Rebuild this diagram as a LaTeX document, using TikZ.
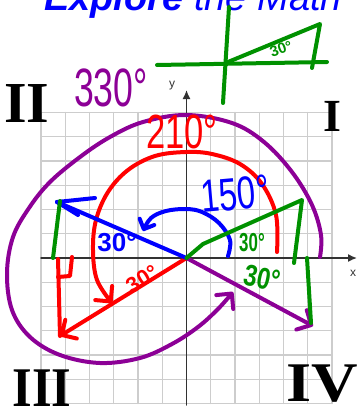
\documentclass[tikz,border=0pt]{standalone}
\usepackage{graphicx}
\usepackage{fontspec}
\setmainfont{Liberation Sans}
\newfontfamily\romanfont{Liberation Serif}
\usetikzlibrary{arrows.meta}
\definecolor{hpurple}{RGB}{140,0,150}
\definecolor{hgreen}{RGB}{0,145,0}
\definecolor{hred}{RGB}{255,0,0}
\definecolor{hblue}{RGB}{0,0,255}
\definecolor{gridc}{RGB}{205,205,205}
\definecolor{axisc}{RGB}{50,50,50}
\begin{document}
\begin{tikzpicture}[x=1pt,y=-1pt,line cap=round,line join=round,
  hand/.style={line width=4pt},
  barb/.style={-{Straight Barb[length=11pt,width=22pt,round]}},
  gridline/.style={gridc,line width=1.4pt},
  axisline/.style={axisc,line width=1.5pt},
  handtext/.style={inner sep=0pt,font=\fontsize{#1}{#1}\selectfont},
  numeral/.style={inner sep=0pt,font=\romanfont\bfseries\fontsize{#1}{#1}\selectfont}]
\useasboundingbox (0,0) rectangle (360,415);
\clip (0,0) rectangle (360,415);
% heading
\node[anchor=base west,inner sep=0pt,text=hblue,font=\fontsize{38}{38}\selectfont] (head) at (44,10) {\textbf{\textit{Explore}} \textit{the Math}};
% grid
\foreach \i in {0,...,12}{
  \draw[gridline] ({41+24.25*\i},112.5) -- ({41+24.25*\i},403.5);
  \draw[gridline] (41,{112.5+24.25*\i}) -- (332,{112.5+24.25*\i});
}
% axes
\coordinate (O) at (186.5,258);
\coordinate (ybot) at (186.5,405);
\coordinate (ytop) at (186.5,90);
\coordinate (xl) at (41,258);
\coordinate (xr) at (357,258);
\draw[axisline,-{Latex[length=9pt,width=8pt]}] (ybot) -- (ytop);
\draw[axisline,-{Latex[length=9pt,width=8pt]}] (xl) -- (xr);
\node[text=axisc,font=\fontsize{12}{12}\selectfont] (ylab) at (172,86) {y};
\node[text=axisc,font=\fontsize{12}{12}\selectfont] (xlab) at (353,273) {x};
% purple spiral
\draw[hand,hpurple,barb] plot[smooth,tension=0.6] coordinates {
 (320,257) (321,235) (312,205) (292,172) (264,142) (232,123) (186,115)
 (143,122) (110,137) (80,157) (50,182) (29,208) (13,237) (7,273)
 (12,310) (30,337) (60,355) (100,363) (140,358) (172,344) (198,327) (218,309) (233,292)};
\coordinate (P) at (313,326);
\draw[hand,hpurple,barb] (O) -- (P);
% red
\draw[hand,hred,barb] plot[smooth,tension=0.6] coordinates {
 (277,252) (276,215) (262,184) (240,164) (212,154) (186,152) (155,156)
 (128,170) (108,192) (96,220) (93,250) (97,280) (112,303)};
\coordinate (R) at (60,336);
\draw[hand,hred,barb] (O) -- (R);
\coordinate (Rtop) at (58,259);
\draw[hand,hred] (Rtop) -- (R);
\draw[hand,hred] (58,277) -- (70,276) -- (72,257);
% blue
\coordinate (B) at (57,202);
\draw[hand,hblue] (O) -- (B);
\draw[hand,hblue] (B) -- (95,198);
\draw[hand,hblue] (B) -- (78,215);
\draw[hand,hblue,-{Straight Barb[length=8pt,width=16pt,round]}] plot[smooth,tension=0.6] coordinates {
 (228,256) (230,240) (219,223) (202,212) (186,209) (166,211) (151,218) (143,231)};
% green
\coordinate (G1) at (302,200);
\coordinate (G1b) at (294,263);
\draw[hand,hgreen] (O) -- (203,244) -- (G1) -- (G1b);
\coordinate (G2) at (60,201);
\coordinate (G2b) at (53,258);
\draw[hand,hgreen] (G2) -- (G2b);
\coordinate (G4) at (307,258);
\coordinate (G4b) at (311,323);
\draw[hand,hgreen] (G4) -- (G4b);
% top green mini diagram
\coordinate (mh1) at (157,65);
\coordinate (mh2) at (327,62);
\coordinate (mv1) at (229,7);
\coordinate (mv2) at (223,103);
\coordinate (mo) at (228,62);
\coordinate (mt) at (320,24);
\coordinate (mb) at (312,68);
\draw[hand,hgreen] (mh1) -- (mh2);
\draw[hand,hgreen] (mv1) -- (mv2);
\draw[hand,hgreen] (mo) -- (mt) -- (mb);
% texts
\node[handtext=15,text=hgreen,rotate=20] (t30top) at (281,49) {\textbf{30°}};
\node[handtext=54,text=hpurple] (t330) at (111,88) {\scalebox{0.66}[1]{330°}};
\node[handtext=48,text=hred] (t210) at (182,132) {\scalebox{0.72}[1]{210°}};
\node[handtext=46,text=hblue,rotate=5] (t150) at (235,194) {\scalebox{0.72}[1]{150°}};
\node[handtext=26,text=hblue] (tb30) at (117,243) {\textbf{30°}};
\node[handtext=26,text=hgreen] (tg30a) at (252,243) {\scalebox{0.65}[1]{\textbf{30°}}};
\node[handtext=30,text=hgreen,rotate=-12] (tg30b) at (262,278) {\scalebox{0.8}[1]{\textbf{30°}}};
\node[handtext=22,text=hred,rotate=31] (tr30) at (142,279) {\textbf{30°}};
% quadrant numerals
\node[numeral=58] (qII) at (27,104) {II};
\node[numeral=46] (qI) at (332,116) {I};
\node[numeral=56] (qIII) at (42,388) {\scalebox{0.9}[1]{III}};
\node[numeral=56] (qIV) at (322,384) {\scalebox{1.15}[1]{IV}};
\end{tikzpicture}
\end{document}
